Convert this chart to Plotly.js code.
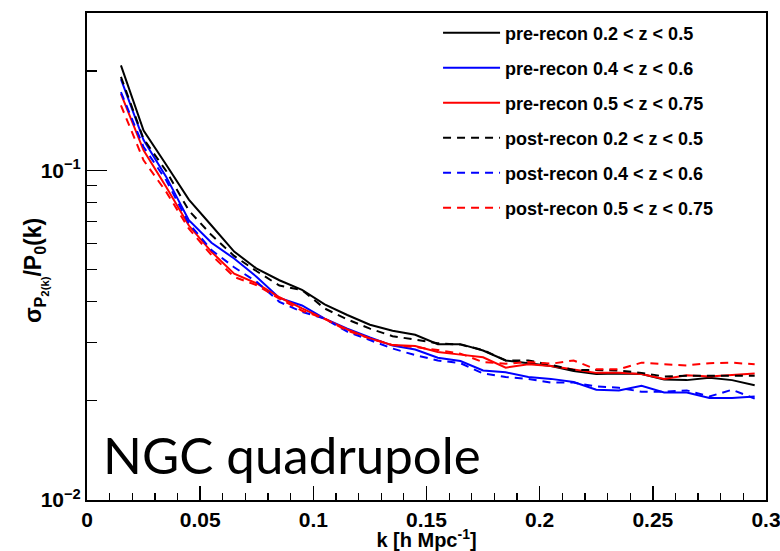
<!DOCTYPE html>
<html>
<head>
<meta charset="utf-8">
<script src="https://cdn.plot.ly/plotly-3.0.1.min.js"></script>
<style>html,body{margin:0;padding:0;background:#fff;}#chart{width:780px;height:551px;}</style>
</head>
<body>
<div id="chart"></div>
<script>
// k values [h Mpc^-1]
const k = [0.015,0.025,0.035,0.045,0.055,0.065,0.075,0.085,0.095,0.105,0.115,0.125,0.135,0.145,0.155,0.165,0.175,0.185,0.195,0.205,0.215,0.225,0.235,0.245,0.255,0.265,0.275,0.285,0.295];

const preRecon_02_05 = [0.208,0.132,0.104,0.0815,0.068,0.0567,0.0503,0.0464,0.0434,0.0392,0.0364,0.0340,0.0326,0.0317,0.0297,0.0297,0.0284,0.0265,0.0260,0.0255,0.0246,0.0241,0.0242,0.0241,0.0232,0.0231,0.0235,0.0231,0.0223];
const preRecon_04_06 = [0.189,0.1235,0.0955,0.0706,0.0603,0.054,0.0475,0.041,0.0389,0.0355,0.0331,0.0311,0.0294,0.0286,0.0270,0.0264,0.0247,0.0244,0.0236,0.0233,0.0228,0.0216,0.0215,0.0222,0.0212,0.0212,0.0204,0.0204,0.0206];
const preRecon_05_075 = [0.1705,0.115,0.089,0.068,0.0566,0.0486,0.0454,0.0412,0.0381,0.0355,0.0329,0.0309,0.0295,0.0293,0.0281,0.0276,0.0271,0.0252,0.0258,0.0255,0.0249,0.0243,0.0243,0.0241,0.0233,0.0239,0.0237,0.0239,0.0242];
const postRecon_02_05 = [0.192,0.1245,0.0995,0.0755,0.0636,0.055,0.0494,0.0447,0.0433,0.0381,0.0353,0.0331,0.0314,0.0306,0.0299,0.0296,0.0285,0.0265,0.0265,0.0257,0.0248,0.0248,0.0247,0.0243,0.0237,0.0238,0.0238,0.0238,0.0238];
const postRecon_04_06 = [0.1725,0.1177,0.0933,0.069,0.0573,0.0508,0.0459,0.0399,0.0372,0.0355,0.0324,0.0305,0.0288,0.0275,0.0265,0.0260,0.0242,0.0236,0.0233,0.0227,0.0227,0.0221,0.0219,0.0213,0.0213,0.0215,0.0206,0.0216,0.0203];
const postRecon_05_075 = [0.1574,0.1072,0.086,0.0665,0.0553,0.0475,0.0448,0.0408,0.0375,0.0355,0.0326,0.0309,0.0295,0.0291,0.0285,0.0278,0.0262,0.0259,0.0262,0.0259,0.0265,0.0249,0.0249,0.0261,0.0258,0.0256,0.0260,0.0261,0.0258];

const seriesNames = ["pre-recon 0.2 < z < 0.5","pre-recon 0.4 < z < 0.6","pre-recon 0.5 < z < 0.75","post-recon 0.2 < z < 0.5","post-recon 0.4 < z < 0.6","post-recon 0.5 < z < 0.75"];
const seriesValues = [preRecon_02_05, preRecon_04_06, preRecon_05_075, postRecon_02_05, postRecon_04_06, postRecon_05_075];
const seriesColors = ["#000000","#0000ff","#ff0000","#000000","#0000ff","#ff0000"];
const seriesDash = ["solid","solid","solid","8px,6px","8px,6px","8px,6px"];

const yMajorVals = [0.01, 0.1];
const yMajorText = ["10<sup>−2</sup>", "10<sup>−1</sup>"];
const yMinorVals = [0.02,0.03,0.04,0.05,0.06,0.07,0.08,0.09,0.2];

const FONT = "Liberation Sans, Arial, sans-serif";

const traces = seriesNames.map((n, i) => ({
  x: k, y: seriesValues[i], type: "scatter", mode: "lines", name: n,
  legendgroup: "g" + i,
  line: {color: seriesColors[i], width: 2, dash: seriesDash[i]}
}));

const layout = {
  width: 780, height: 551,
  margin: {l: 87, r: 14, t: 13, b: 51},
  paper_bgcolor: "#fff", plot_bgcolor: "#fff",
  showlegend: true,
  legend: {
    x: 0.517, y: 0.997, xanchor: "left", yanchor: "top",
    bgcolor: "rgba(0,0,0,0)", borderwidth: 0, itemwidth: 57,
    font: {family: FONT, size: 18, color: "#000", weight: "bold"},
    tracegroupgap: 8.6, traceorder: "grouped"
  },
  xaxis: {
    range: [0, 0.3], tick0: 0, dtick: 0.05,
    ticks: "inside", ticklen: 14, tickwidth: 1.5, tickcolor: "#000",
    minor: {dtick: 0.01, ticks: "inside", ticklen: 7, tickwidth: 1.2, tickcolor: "#000", showgrid: false},
    showgrid: false, zeroline: false,
    showline: true, mirror: true, linecolor: "#000", linewidth: 2,
    ticklabeloverflow: "allow",
    tickfont: {family: FONT, size: 21, color: "#000", weight: "bold"},
    title: {text: "k [h Mpc<sup>-1</sup>]", font: {family: FONT, size: 20, color: "#000", weight: "bold"}, standoff: 2}
  },
  yaxis: {
    type: "log", range: [-2, Math.log10(0.3)],
    tickmode: "array", tickvals: yMajorVals, ticktext: yMajorText,
    ticks: "inside", ticklen: 20, tickwidth: 1.5, tickcolor: "#000",
    minor: {tickmode: "array", tickvals: yMinorVals, ticks: "inside", ticklen: 10, tickwidth: 1.2, tickcolor: "#000", showgrid: false},
    showgrid: false, zeroline: false,
    showline: true, mirror: true, linecolor: "#000", linewidth: 2,
    ticklabeloverflow: "allow",
    tickfont: {family: FONT, size: 21, color: "#000", weight: "bold"}
  },
  annotations: [{
    text: "σ<sub>P<sub>2(k)</sub></sub>/P<sub>0</sub>(k)", xref: "paper", yref: "paper",
    x: -0.0766, y: 0.472, xanchor: "center", yanchor: "middle", textangle: -90, showarrow: false,
    font: {family: FONT, size: 23, color: "#000", weight: "bold"}
  }, {
    text: "NGC quadrupole", xref: "paper", yref: "paper",
    x: 0.02, y: 0.094, xanchor: "left", yanchor: "middle", showarrow: false,
    font: {family: "Lato, Open Sans, sans-serif", size: 51, color: "#000"}
  }]
};

Plotly.newPlot("chart", traces, layout, {displayModeBar: false, staticPlot: true});
</script>
</body>
</html>
